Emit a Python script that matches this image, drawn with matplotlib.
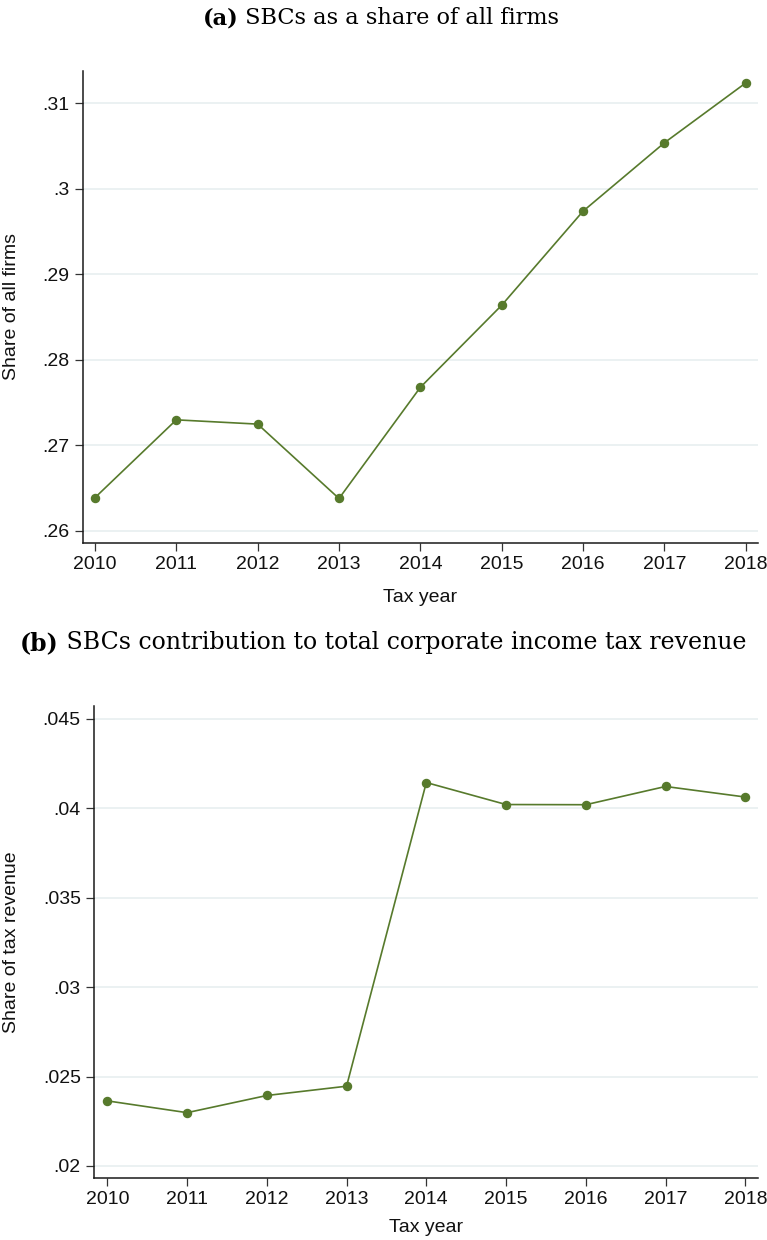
import matplotlib
matplotlib.use("Agg")
import matplotlib.pyplot as plt

years = [2010, 2011, 2012, 2013, 2014, 2015, 2016, 2017, 2018]
share_firms = [0.2639, 0.2730, 0.2725, 0.2638, 0.2768, 0.2864, 0.2974, 0.3054, 0.3124]
share_tax = [0.02364, 0.02298, 0.02394, 0.02446, 0.04144, 0.04021, 0.04020, 0.04122, 0.04063]

yticks_a = [0.26, 0.27, 0.28, 0.29, 0.30, 0.31]
yticklabels_a = [".26", ".27", ".28", ".29", ".3", ".31"]
yticks_b = [0.02, 0.025, 0.03, 0.035, 0.04, 0.045]
yticklabels_b = [".02", ".025", ".03", ".035", ".04", ".045"]

title_a_bold = "(a)"
title_a = " SBCs as a share of all firms"
title_b_bold = "(b)"
title_b = " SBCs contribution to total corporate income tax revenue"
ylabel_a = "Share of all firms"
ylabel_b = "Share of tax revenue"
xlabel = "Tax year"

W, H = 767, 1240
fig = plt.figure(figsize=(W / 100, H / 100), dpi=100)
fig.patch.set_facecolor("white")

LINE = "#577a2c"
GRID = "#e9f0f1"
SANS = ["Liberation Sans", "DejaVu Sans"]
SERIF = ["DejaVu Serif"]
TICKFS = 14


def px_axes(l, t, r, b):
    return fig.add_axes([l / W, 1 - b / H, (r - l) / W, (b - t) / H])


def style(ax, data, yt, ytl, ylim, xlim):
    ax.plot(years, data, color=LINE, lw=1.2, marker="o", ms=5.8,
            mfc=LINE, mec=LINE, zorder=3)
    ax.set_xlim(*xlim)
    ax.set_ylim(*ylim)
    ax.set_xticks(years)
    ax.set_xticklabels([str(y) for y in years], fontsize=TICKFS, family=SANS)
    ax.set_yticks(yt)
    ax.set_yticklabels(ytl, fontsize=TICKFS, family=SANS)
    for s in ["top", "right"]:
        ax.spines[s].set_visible(False)
    for s in ["left", "bottom"]:
        ax.spines[s].set_linewidth(1.1)
        ax.spines[s].set_color("#1a1a1a")
    ax.tick_params(direction="out", length=6, width=0.9, color="#333333",
                   pad=3.5, labelcolor="#111111")
    ax.grid(axis="y", color=GRID, lw=1.3, zorder=0)
    ax.set_axisbelow(True)


ax1 = px_axes(82.7, 71, 758.3, 543.3)
style(ax1, share_firms, yticks_a, yticklabels_a, (0.25856, 0.3138), (2009.849, 2018.155))

ax2 = px_axes(94, 706, 758.3, 1178.3)
style(ax2, share_tax, yticks_b, yticklabels_b, (0.01931, 0.04572), (2009.833, 2018.163))

# axis labels
fig.text(12 / W, 1 - 307 / H, ylabel_a, rotation=90, ha="center", va="center",
         fontsize=TICKFS, family=SANS, color="#111111")
fig.text(12 / W, 1 - 942 / H, ylabel_b, rotation=90, ha="center", va="center",
         fontsize=TICKFS, family=SANS, color="#111111")
fig.text(420.5 / W, 1 - 597 / H, xlabel, ha="center", va="center",
         fontsize=TICKFS, family=SANS, color="#111111")
fig.text(426 / W, 1 - 1228 / H, xlabel, ha="center", va="center",
         fontsize=TICKFS, family=SANS, color="#111111")

# titles with bold label part
fig.canvas.draw()
renderer = fig.canvas.get_renderer()


def title(bold, rest, cx, cy, fs):
    t1 = fig.text(0, 1 - cy / H, bold, ha="left", va="center", fontsize=fs,
                  family=SERIF, weight="bold")
    t2 = fig.text(0, 1 - cy / H, rest, ha="left", va="center", fontsize=fs,
                  family=SERIF)
    w1 = t1.get_window_extent(renderer).width
    w2 = t2.get_window_extent(renderer).width
    x0 = cx - (w1 + w2) / 2
    t1.set_x(x0 / W)
    t2.set_x((x0 + w1) / W)


title(title_a_bold, title_a, 381, 18, 16.2)
title(title_b_bold, title_b, 383, 643, 17)

fig.savefig("out.png", dpi=100, facecolor="white")
